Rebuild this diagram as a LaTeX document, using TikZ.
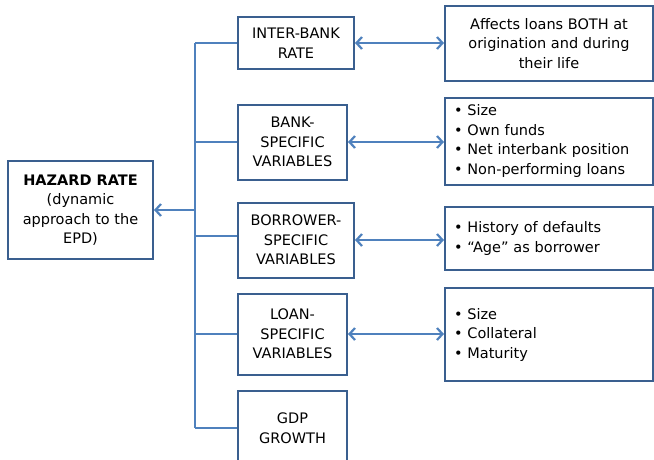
\documentclass[tikz,border=0pt]{standalone}
\usepackage{fontspec}
\setmainfont{DejaVu Sans}
\usetikzlibrary{arrows.meta,positioning,calc}
\definecolor{boxline}{HTML}{3A5F8F}
\definecolor{link}{HTML}{4F81BD}

\begin{document}
\begin{tikzpicture}[x=1pt,y=-1pt,>={Straight Barb[length=5.5pt,width=12pt]},
 b/.style={draw=boxline,line width=2pt,fill=white,align=center,inner sep=0pt,font=\fontsize{14.5}{19.5}\selectfont},
 mid/.style={b,minimum height=75pt},
 lst/.style={b,align=left,text width=190pt,inner xsep=9pt,minimum width=208pt},
 ln/.style={draw=link,line width=2.2pt}]
 \useasboundingbox (0,0) rectangle (654,459);
 % left box
 \node[b,minimum width=145pt,minimum height=98pt] (hazard) at (80.5,210) {\textbf{HAZARD RATE}\\(dynamic\\approach to the\\EPD)};
 % middle column
 \node[b,minimum width=116pt,minimum height=52pt] (inter) at (296,43) {INTER-BANK\\RATE};
 \node[mid,minimum width=109pt] (bank) at (292.5,142) {BANK-\\SPECIFIC\\VARIABLES};
 \node[mid,minimum width=116pt] (borrow) at (296,240) {BORROWER-\\SPECIFIC\\VARIABLES};
 \node[mid,minimum width=109pt,minimum height=81pt] (loan) at (292.5,334) {LOAN-\\SPECIFIC\\VARIABLES};
 \node[b,minimum width=109pt,minimum height=74pt] (gdp) at (292.5,428) {GDP\\GROWTH};
 % right column
 \node[b,minimum width=208pt,minimum height=75pt] (r1) at (549,43.5) {Affects loans BOTH at\\origination and during\\their life};
 \node[lst,minimum height=87pt] (r2) at (549,141) {• Size\\• Own funds\\• Net interbank position\\• Non-performing loans};
 \node[lst,minimum height=63pt] (r3) at (549,238.5) {• History of defaults\\• “Age” as borrower};
 \node[lst,minimum height=93pt] (r4) at (549,334.5) {• Size\\• Collateral\\• Maturity};
 % connectors
 \coordinate (top) at (195,43);
 \coordinate (bot) at (195,428);
 \draw[ln] (top) -- (bot);
 \foreach \n in {inter,bank,loan,gdp} \draw[ln] (top |- \n.west) -- (\n.west);
 \draw[ln] (top |- 0,236) -- (borrow.west |- 0,236);
 \draw[ln,->] (top |- hazard.east) -- (hazard.east);
 \foreach \x/\y in {inter/r1,bank/r2,borrow/r3,loan/r4} \draw[ln,<->] (\x.east) -- (\x.east -| \y.west);
\end{tikzpicture}
\end{document}
